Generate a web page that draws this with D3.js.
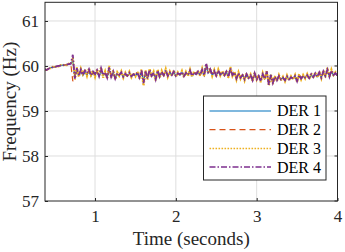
<!DOCTYPE html>
<html lang="en">
<head>
<meta charset="utf-8">
<title>DER frequency</title>
<script src="https://cdnjs.cloudflare.com/ajax/libs/d3/7.8.5/d3.min.js"></script>
<style>
body { margin: 0; background: #fff; }
svg { display: block; }
svg text { font-family: "Liberation Serif", "Times New Roman", serif; }
</style>
</head>
<body>
<div id="viz"></div>
<script>
// sample times (s), 0.025 s step from 0.375 to 4.0
const times = d3.range(146).map(i => 0.375 + i * 0.025);

const der1 = [59.93,59.91,59.94,59.96,59.97,59.98,59.99,60.00,60.01,60.02,60.02,60.03,60.04,60.05,
  60.12,59.76,59.90,59.80,59.88,59.79,59.86,59.80,59.88,59.78,59.85,59.80,59.87,59.77,59.90,59.79,
  59.84,59.75,59.92,59.76,59.85,59.74,59.82,59.79,59.84,59.76,59.81,59.78,59.83,59.77,59.81,59.78,
  59.84,59.75,59.86,59.68,59.85,59.74,59.88,59.78,59.83,59.72,59.87,59.77,59.85,59.79,59.88,59.78,
  59.84,59.80,59.86,59.78,59.83,59.80,59.85,59.78,59.84,59.80,59.87,59.78,59.84,59.81,59.86,59.80,
  59.89,59.79,59.98,59.85,59.90,59.80,59.87,59.79,59.88,59.80,59.85,59.79,59.86,59.77,59.91,59.79,
  59.84,59.74,59.82,59.75,59.79,59.72,59.80,59.74,59.78,59.70,59.81,59.72,59.77,59.68,59.80,59.72,
  59.84,59.62,59.78,59.65,59.75,59.69,59.76,59.71,59.74,59.69,59.76,59.71,59.74,59.72,59.77,59.68,
  59.78,59.72,59.77,59.74,59.79,59.73,59.80,59.75,59.82,59.76,59.83,59.75,59.85,59.77,59.88,59.77,
  59.87,59.79,59.83,59.78];
const der2 = [59.93,59.91,59.94,59.96,59.97,59.98,59.99,60.00,60.01,60.02,60.02,60.03,60.04,60.05,
  59.66,59.80,59.92,59.79,59.90,59.81,59.88,59.82,59.90,59.79,59.86,59.81,59.89,59.78,59.92,59.80,
  59.85,59.75,59.94,59.77,59.86,59.73,59.83,59.80,59.85,59.77,59.82,59.78,59.84,59.77,59.82,59.79,
  59.85,59.75,59.88,59.64,59.86,59.73,59.90,59.78,59.84,59.71,59.88,59.77,59.86,59.79,59.89,59.78,
  59.85,59.80,59.87,59.78,59.83,59.81,59.86,59.77,59.85,59.80,59.88,59.78,59.85,59.82,59.87,59.80,
  59.90,59.79,60.02,59.86,59.91,59.80,59.88,59.78,59.89,59.81,59.86,59.79,59.87,59.76,59.93,59.80,
  59.85,59.73,59.83,59.74,59.80,59.71,59.81,59.73,59.79,59.69,59.82,59.71,59.78,59.67,59.81,59.72,
  59.86,59.60,59.79,59.63,59.76,59.68,59.77,59.70,59.75,59.68,59.76,59.71,59.75,59.72,59.77,59.67,
  59.79,59.72,59.78,59.74,59.79,59.73,59.81,59.75,59.83,59.76,59.84,59.75,59.85,59.77,59.89,59.77,
  59.88,59.80,59.84,59.78];
const der3 = [59.92,59.90,59.95,59.95,59.98,59.97,60.00,59.99,60.02,60.01,60.03,60.02,60.05,60.04,
  60.18,59.70,59.97,59.76,59.94,59.82,59.92,59.78,59.95,59.80,59.90,59.76,59.93,59.79,59.97,59.74,
  59.88,59.72,60.00,59.74,59.90,59.70,59.86,59.78,59.88,59.74,59.85,59.76,59.87,59.75,59.84,59.77,
  59.88,59.72,59.92,59.56,59.90,59.70,59.94,59.76,59.87,59.68,59.92,59.74,59.89,59.77,59.93,59.76,
  59.88,59.78,59.90,59.76,59.86,59.79,59.89,59.75,59.87,59.78,59.92,59.76,59.88,59.80,59.90,59.78,
  59.94,59.77,60.04,59.84,59.95,59.78,59.91,59.76,59.92,59.79,59.89,59.77,59.90,59.74,59.98,59.78,
  59.88,59.70,59.86,59.72,59.82,59.68,59.84,59.71,59.81,59.66,59.86,59.70,59.80,59.64,59.84,59.70,
  59.90,59.56,59.82,59.60,59.78,59.66,59.80,59.68,59.76,59.66,59.79,59.68,59.77,59.70,59.80,59.64,
  59.82,59.70,59.80,59.72,59.82,59.71,59.84,59.73,59.86,59.74,59.88,59.73,59.90,59.75,59.96,59.75,
  59.92,59.80,59.86,59.79];
const der4 = [59.93,59.91,59.94,59.96,59.97,59.98,59.99,60.00,60.01,60.02,60.02,60.03,60.04,60.05,
  60.25,59.72,59.95,59.78,59.92,59.80,59.90,59.84,59.93,59.79,59.88,59.82,59.91,59.77,59.95,59.80,
  59.86,59.74,59.97,59.76,59.88,59.72,59.84,59.80,59.86,59.76,59.83,59.78,59.85,59.77,59.82,59.79,
  59.86,59.74,59.90,59.62,59.88,59.72,59.92,59.78,59.85,59.70,59.90,59.76,59.87,59.79,59.91,59.78,
  59.86,59.80,59.88,59.78,59.84,59.81,59.87,59.77,59.85,59.80,59.90,59.78,59.86,59.82,59.88,59.80,
  59.92,59.79,60.06,59.86,59.93,59.80,59.89,59.78,59.90,59.81,59.87,59.79,59.88,59.76,59.95,59.80,
  59.86,59.72,59.84,59.74,59.80,59.70,59.82,59.73,59.79,59.68,59.84,59.70,59.78,59.66,59.82,59.72,
  59.88,59.58,59.80,59.62,59.76,59.68,59.78,59.70,59.74,59.68,59.77,59.70,59.75,59.72,59.78,59.66,
  59.80,59.72,59.78,59.74,59.80,59.73,59.82,59.75,59.84,59.76,59.86,59.74,59.88,59.78,59.92,59.76,
  59.90,59.80,59.84,59.78];

const seriesNames = ["DER 1", "DER 2", "DER 3", "DER 4"];
const seriesValues = [der1, der2, der3, der4];
const xTicks = [1, 2, 3, 4];
const yTicks = [57, 58, 59, 60, 61];

const colors = ["#0072BD", "#D95319", "#EDB120", "#7E2F8E"];
const dashes = ["none", "6,4", "1.6,1.4", "6,2,1.5,2"];
const widths = [1.2, 1.2, 2.2, 1.8];

const width = 345, height = 252;
const plotLeft = 45, plotRight = 337.5, plotTop = 2.3, plotBottom = 201;

const x = d3.scaleLinear().domain([0.381, 4]).range([plotLeft, plotRight]);
const y = d3.scaleLinear().domain([57, 61.415]).range([plotBottom, plotTop]);

const svg = d3.select("#viz").append("svg")
  .attr("width", width)
  .attr("height", height);

svg.append("defs").append("clipPath").attr("id", "clip")
  .append("rect")
  .attr("x", plotLeft).attr("y", plotTop)
  .attr("width", plotRight - plotLeft).attr("height", plotBottom - plotTop);

// grid
svg.append("g")
  .selectAll("line")
  .data(xTicks.filter(d => d < 4))
  .enter().append("line")
    .attr("x1", d => x(d)).attr("x2", d => x(d))
    .attr("y1", plotTop).attr("y2", plotBottom)
    .attr("stroke", "#dedede").attr("stroke-width", 1);
svg.append("g")
  .selectAll("line")
  .data(yTicks.filter(d => d > 57))
  .enter().append("line")
    .attr("x1", plotLeft).attr("x2", plotRight)
    .attr("y1", d => y(d)).attr("y2", d => y(d))
    .attr("stroke", "#dedede").attr("stroke-width", 1);

// lines
const line = d3.line()
  .x((d, i) => x(times[i]))
  .y(d => y(d));

svg.append("g")
  .attr("clip-path", "url(#clip)")
  .selectAll("path")
  .data(seriesValues)
  .enter().append("path")
    .attr("d", d => line(d))
    .attr("fill", "none")
    .attr("stroke", (d, i) => colors[i])
    .attr("stroke-width", (d, i) => widths[i])
    .attr("stroke-dasharray", (d, i) => dashes[i]);

// axes, ticks inward
const xAxis = svg.append("g")
  .attr("transform", `translate(0,${plotBottom})`)
  .call(d3.axisBottom(x).tickValues(xTicks).tickFormat(d3.format("d"))
    .tickSizeInner(-3).tickSizeOuter(0).tickPadding(9));
const yAxis = svg.append("g")
  .attr("transform", `translate(${plotLeft},0)`)
  .call(d3.axisLeft(y).tickValues(yTicks).tickFormat(d3.format("d"))
    .tickSizeInner(-3).tickSizeOuter(0).tickPadding(6));

[xAxis, yAxis].forEach(g => {
  g.attr("font-family", null).attr("font-size", 17);
  g.select(".domain").remove();
  g.selectAll(".tick line").attr("stroke", "#262626");
  g.selectAll("text").attr("fill", "#262626");
});
yAxis.selectAll("text").attr("dy", "0.34em");

// box
svg.append("rect")
  .attr("x", plotLeft).attr("y", plotTop)
  .attr("width", plotRight - plotLeft).attr("height", plotBottom - plotTop)
  .attr("fill", "none")
  .attr("stroke", "#262626")
  .attr("stroke-width", 1);

// right and top ticks
svg.append("g").selectAll("line")
  .data(yTicks)
  .enter().append("line")
    .attr("x1", plotRight).attr("x2", plotRight - 3)
    .attr("y1", d => y(d)).attr("y2", d => y(d))
    .attr("stroke", "#262626");
svg.append("g").selectAll("line")
  .data(xTicks)
  .enter().append("line")
    .attr("x1", d => x(d)).attr("x2", d => x(d))
    .attr("y1", plotTop).attr("y2", plotTop + 3)
    .attr("stroke", "#262626");

// axis labels
svg.append("text")
  .attr("x", (plotLeft + plotRight) / 2)
  .attr("y", 245)
  .attr("text-anchor", "middle")
  .attr("font-size", 19)
  .attr("fill", "#262626")
  .text("Time (seconds)");
svg.append("text")
  .attr("transform", `translate(16,${(plotTop + plotBottom) / 2}) rotate(-90)`)
  .attr("text-anchor", "middle")
  .attr("font-size", 19)
  .attr("fill", "#262626")
  .text("Frequency (Hz)");

// legend
const legend = svg.append("g");
legend.append("rect")
  .attr("x", 203.5).attr("y", 96)
  .attr("width", 122.5).attr("height", 84)
  .attr("fill", "#fff")
  .attr("stroke", "#262626")
  .attr("stroke-width", 1);

const rows = legend.selectAll("g.row")
  .data(seriesNames)
  .enter().append("g")
    .attr("class", "row")
    .attr("transform", (d, i) => `translate(0,${111 + i * 18.7})`);
rows.append("line")
  .attr("x1", 209.5).attr("x2", 271)
  .attr("stroke", (d, i) => colors[i])
  .attr("stroke-width", (d, i) => Math.min(widths[i], 1.5))
  .attr("stroke-dasharray", (d, i) => dashes[i]);
rows.append("text")
  .attr("x", 277)
  .attr("dy", "0.34em")
  .attr("font-size", 16)
  .attr("fill", "#000")
  .text(d => d);
</script>
</body>
</html>
